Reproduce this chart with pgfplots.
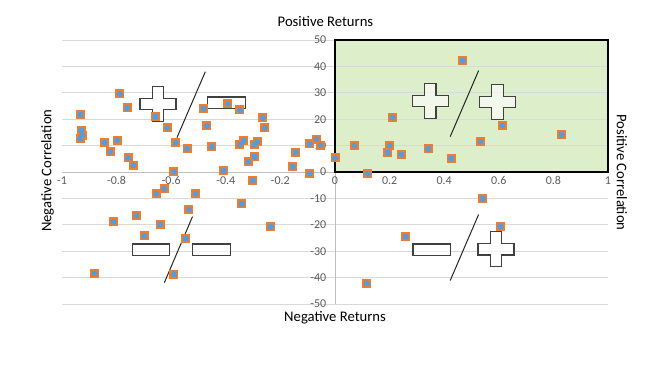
\documentclass[border=0pt]{standalone}
\usepackage{pgfplots}
\pgfplotsset{compat=1.18}
\usepackage{pgfplotstable}
\usepackage{fontspec}
\setmainfont{Carlito}
\definecolor{orangeM}{HTML}{ED7D31}
\definecolor{blueM}{HTML}{5B9BD5}
\definecolor{greenQ}{HTML}{DDEECB}
\definecolor{gridc}{HTML}{D9D9D9}
\definecolor{axisc}{HTML}{BFBFBF}
\definecolor{tickc}{HTML}{595959}
\definecolor{shapec}{HTML}{404040}

\pgfplotstableread{
x y
-0.933 21.7
-0.929 15.8
-0.933 12.6
-0.926 13.9
-0.845 11.1
-0.823 7.7
-0.798 12.0
-0.788 29.7
-0.761 24.4
-0.758 5.4
-0.738 2.5
-0.658 21.0
-0.615 16.8
-0.583 11.1
-0.590 0.1
-0.542 8.8
-0.481 24.0
-0.469 17.6
-0.451 9.6
-0.408 0.5
-0.392 25.9
-0.348 23.5
-0.348 10.4
-0.334 11.9
-0.318 3.9
-0.301 -3.2
-0.296 10.4
-0.285 11.5
-0.294 5.8
-0.264 20.6
-0.257 16.8
-0.155 2.0
-0.144 7.3
-0.093 -0.6
-0.093 10.7
-0.068 12.4
-0.054 10.1
-0.655 -8.2
-0.626 -6.3
-0.510 -8.2
-0.535 -14.2
-0.811 -18.8
-0.728 -16.5
-0.641 -19.8
-0.699 -24.1
-0.547 -25.2
-0.881 -38.4
-0.590 -38.8
-0.342 -12.0
-0.235 -20.7
0.000 5.4
0.071 10.0
0.120 -0.6
0.193 7.3
0.200 10.0
0.211 20.6
0.243 6.6
0.342 8.8
0.426 5.1
0.468 42.2
0.533 11.5
0.613 17.6
0.830 14.1
0.541 -10.1
0.606 -20.7
0.259 -24.5
0.117 -42.2
}\points

\tikzset{
  sym/.style={draw=shapec, line width=0.9pt, fill=white, fill opacity=0.6},
  slash/.style={draw=black!85, line width=0.75pt},
}
\newcommand{\plusat}[2]{%
  \path[sym] (axis cs:#1,#2) ++(-13.5pt,4.25pt) -- ++(9.25pt,0pt) -- ++(0pt,8.85pt)
    -- ++(8.5pt,0pt) -- ++(0pt,-8.85pt) -- ++(9.25pt,0pt) -- ++(0pt,-8.5pt)
    -- ++(-9.25pt,0pt) -- ++(0pt,-8.85pt) -- ++(-8.5pt,0pt) -- ++(0pt,8.85pt)
    -- ++(-9.25pt,0pt) -- cycle;}

\begin{document}
\begin{tikzpicture}
\path (0pt,0pt) rectangle (495pt,276.75pt);
\begin{axis}[
  at={(46.5pt,48.75pt)}, anchor=south west,
  scale only axis, width=409.5pt, height=198pt,
  set layers,
  xmin=-1, xmax=1, ymin=-50, ymax=50,
  axis lines=middle,
  axis line style={draw=axisc, line width=0.75pt, -},
  xtick={-1,-0.8,-0.6,-0.4,-0.2,0,0.2,0.4,0.6,0.8,1},
  xticklabels={-1,-0.8,-0.6,-0.4,-0.2,0,0.2,0.4,0.6,0.8,1},
  ytick={-50,-40,-30,-20,-10,0,10,20,30,40,50},
  yticklabels={-50,-40,-30,-20,-10,0,10,20,30,40,50},
  hide obscured x ticks=false, hide obscured y ticks=false,
  major tick length=0pt,
  ymajorgrids, grid style={draw=gridc, line width=0.75pt},
  tick label style={font=\fontsize{9}{10}\selectfont, text=tickc},
  yticklabel style={xshift=-3pt},
  clip=false,
]
\begin{pgfonlayer}{axis background}
  \fill[greenQ] (axis cs:0,0) rectangle (axis cs:1,50);
\end{pgfonlayer}
\draw[black, line width=1.1pt] (axis cs:0,0) rectangle (axis cs:1,50);

\addplot[only marks, color=orangeM, mark=square*, mark size=3pt, mark options={solid, fill=orangeM, draw=orangeM, line width=0pt}] table[x=x,y=y] {\points};
\addplot[only marks, color=blueM, mark=*, mark size=1.9pt, mark options={solid, fill=blueM, draw=blueM, line width=0pt}] table[x=x,y=y] {\points};

% quadrant II: + / -
\plusat{-0.648}{25.7}
\path[slash] (axis cs:-0.579,13.0) -- (axis cs:-0.475,38.0);
\path[sym] (axis cs:-0.467,24.0) rectangle (axis cs:-0.329,28.4);
% quadrant I: + / +
\plusat{0.349}{26.9}
\path[slash] (axis cs:0.422,13.4) -- (axis cs:0.526,38.4);
\plusat{0.595}{26.5}
% quadrant III: - / -
\path[sym] (axis cs:-0.743,-31.7) rectangle (axis cs:-0.606,-27.3);
\path[slash] (axis cs:-0.625,-41.9) -- (axis cs:-0.522,-16.9);
\path[sym] (axis cs:-0.521,-31.7) rectangle (axis cs:-0.384,-27.3);
% quadrant IV: - / +
\path[sym] (axis cs:0.286,-31.7) rectangle (axis cs:0.424,-27.3);
\path[slash] (axis cs:0.422,-41.1) -- (axis cs:0.526,-16.1);
\plusat{0.590}{-29.3}
\end{axis}
\node[anchor=base, font=\fontsize{11}{12}\selectfont] at (244.1pt,256.7pt) {Positive Returns};
\node[anchor=base, font=\fontsize{11}{12}\selectfont] at (251.3pt,36pt) {Negative Returns};
\node[rotate=90, font=\fontsize{11}{12}\selectfont] at (35.6pt,148.7pt) {Negative Correlation};
\node[rotate=-90, font=\fontsize{11}{12}\selectfont] at (466.5pt,147.4pt) {Positive Correlation};
\end{tikzpicture}
\end{document}
